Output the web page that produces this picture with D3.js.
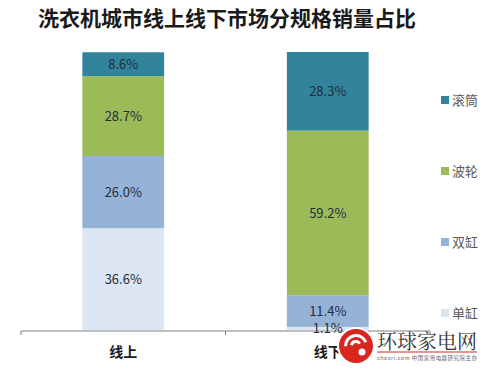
<!DOCTYPE html>
<html>
<head>
<meta charset="utf-8">
<script src="https://cdn.jsdelivr.net/npm/d3@7"></script>
<style>
  body { margin: 0; background: #fff; }
  svg { display: block; font-family: "Noto Sans CJK SC", "Noto Sans", sans-serif; }
</style>
</head>
<body>
<div class="chart"></div>
<script>
// categories and series (bottom of stack first)
const categories = ["线上", "线下"];
const seriesNames = ["单缸", "双缸", "波轮", "滚筒"];
const danGang = [36.6, 1.1];
const shuangGang = [26.0, 11.4];
const boLun = [28.7, 59.2];
const gunTong = [8.6, 28.3];
const title = "洗衣机城市线上线下市场分规格销量占比";

const width = 500;
const height = 385;
const margin = { top: 52, bottom: 55, left: 21, right: 70 };
const colors = ["#dce6f2", "#95b3d7", "#9bbb59", "#31849b"];

const table = categories.map((c, i) => ({
    cat: c,
    "单缸": danGang[i],
    "双缸": shuangGang[i],
    "波轮": boLun[i],
    "滚筒": gunTong[i]
}));

const stacked = d3.stack().keys(seriesNames)(table);

const svg = d3.select("div.chart")
    .append("svg")
    .attr("width", width)
    .attr("height", height)
    .attr("viewBox", [0, 0, width, height]);

svg.append("rect").attr("width", width).attr("height", height).attr("fill", "#fff");

// title
svg.append("text")
    .attr("x", 38)
    .attr("y", 26)
    .attr("font-size", 21)
    .attr("font-weight", "bold")
    .attr("fill", "#1a1a1a")
    .text(title);

const xScale = d3.scaleBand()
    .domain(categories)
    .range([margin.left, width - margin.right])
    .padding(0);

const barWidth = xScale.bandwidth() * 0.4;

const yScale = d3.scaleLinear()
    .domain([0, 100])
    .range([height - margin.bottom, margin.top]);

const color = d3.scaleOrdinal().domain(seriesNames).range(colors);

// bars
const layers = svg.append("g")
    .selectAll("g")
    .data(stacked)
    .join("g")
    .attr("fill", d => color(d.key));

layers.selectAll("rect")
    .data(d => d)
    .join("rect")
    .attr("x", d => xScale(d.data.cat) + (xScale.bandwidth() - barWidth) / 2)
    .attr("width", barWidth)
    .attr("y", d => yScale(d[1]))
    .attr("height", d => yScale(d[0]) - yScale(d[1]));

// x axis (ticks between categories, like Excel)
const axisY = yScale(0) + 1;
const xAxis = svg.append("g")
    .attr("transform", `translate(0,${axisY})`);
xAxis.append("line")
    .attr("x1", margin.left).attr("x2", width - margin.right)
    .attr("stroke", "#7f7f7f");
const tickXs = categories.map(c => xScale(c)).concat([xScale.range()[1]]);
xAxis.selectAll("line.tick")
    .data(tickXs)
    .join("line")
    .attr("class", "tick")
    .attr("x1", d => d).attr("x2", d => d)
    .attr("y1", 0).attr("y2", 4)
    .attr("stroke", "#7f7f7f");
xAxis.selectAll("text")
    .data(categories)
    .join("text")
    .attr("x", d => xScale(d) + xScale.bandwidth() / 2)
    .attr("y", 26)
    .attr("text-anchor", "middle")
    .attr("font-size", 14)
    .attr("font-weight", "bold")
    .attr("fill", "#1a1a1a")
    .text(d => d);

// data labels
svg.append("g")
    .selectAll("g")
    .data(stacked)
    .join("g")
    .selectAll("text")
    .data(d => d)
    .join("text")
    .attr("x", d => xScale(d.data.cat) + xScale.bandwidth() / 2)
    .attr("y", d => (yScale(d[0]) + yScale(d[1])) / 2)
    .attr("dy", "0.35em")
    .attr("text-anchor", "middle")
    .attr("font-size", 13)
    .attr("fill", "#1f2d3d")
    .text(d => (d[1] - d[0]).toFixed(1) + "%");

// legend
const legendY = d3.scalePoint()
    .domain(seriesNames.slice().reverse())
    .range([100, 313]);
const legend = svg.append("g")
    .selectAll("g")
    .data(seriesNames)
    .join("g")
    .attr("transform", d => `translate(441,${legendY(d)})`);
legend.append("rect")
    .attr("x", 0).attr("y", -4)
    .attr("width", 8).attr("height", 8)
    .attr("fill", d => color(d));
legend.append("text")
    .attr("x", 11)
    .attr("dy", "0.35em")
    .attr("font-size", 13)
    .attr("fill", "#595959")
    .text(d => d);

// watermark
const wm = svg.append("g").attr("transform", "translate(356,346)");
wm.append("circle").attr("r", 19).attr("fill", "#fff");
wm.append("circle").attr("r", 17).attr("fill", "#d7261e");
const arc = d3.arc();
wm.append("path")
    .attr("d", arc({ innerRadius: 9, outerRadius: 12, startAngle: -1.6, endAngle: 1.2 }))
    .attr("fill", "#fff");
wm.append("path")
    .attr("d", arc({ innerRadius: 3, outerRadius: 6, startAngle: -1.4, endAngle: 1.0 }))
    .attr("fill", "#fff");
wm.append("circle").attr("cx", 6).attr("cy", 6).attr("r", 3.5).attr("fill", "#fff");
svg.append("text")
    .attr("x", 377).attr("y", 349)
    .attr("font-family", "'Noto Serif CJK SC', 'DejaVu Serif', serif")
    .attr("font-size", 20)
    .attr("fill", "#333")
    .attr("textLength", 100)
    .text("环球家电网");
svg.append("line")
    .attr("x1", 377).attr("x2", 477)
    .attr("y1", 352).attr("y2", 352)
    .attr("stroke", "#d7261e").attr("stroke-width", 1);
svg.append("text")
    .attr("x", 377).attr("y", 360)
    .attr("font-size", 5.5)
    .attr("fill", "#666")
    .attr("textLength", 100)
    .text("cheari.com 中国家用电器研究院主办");
</script>
</body>
</html>
